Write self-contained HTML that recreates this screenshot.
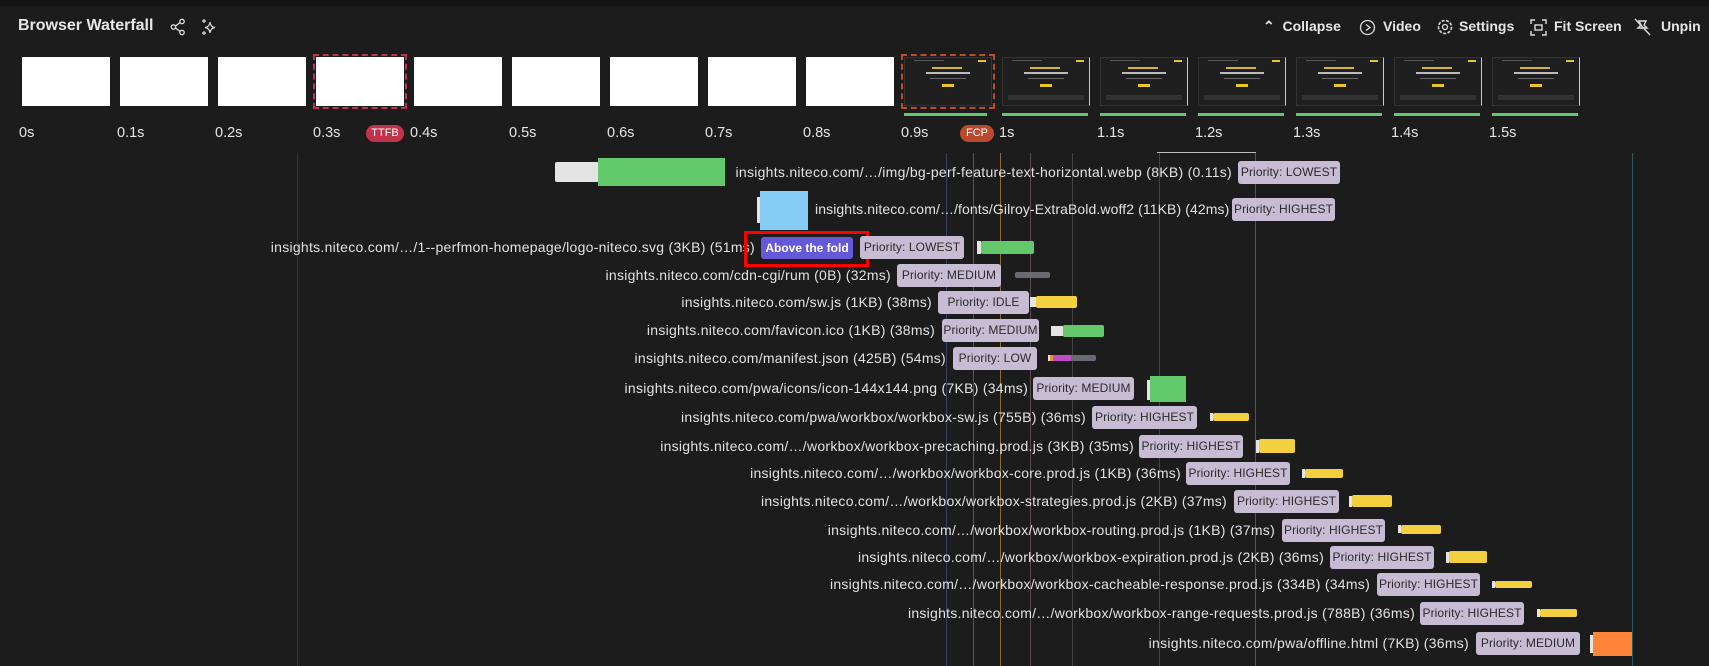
<!DOCTYPE html>
<html><head><meta charset="utf-8"><style>
*{margin:0;padding:0;box-sizing:border-box}
body{width:1709px;height:666px;background:#1c1c1c;position:relative;overflow:hidden;font-family:"Liberation Sans",sans-serif;color:#e4e4e4}
.a{position:absolute}
.t{position:absolute;font-size:14px;white-space:nowrap;line-height:22px;height:22px;color:#e2e2e2;letter-spacing:0.27px}
.b{position:absolute;height:23px;background:#c8bcd5;color:#2a2a2a;font-size:12px;line-height:23px;border-radius:3px;text-align:center;white-space:nowrap;letter-spacing:0.1px}
.th{position:absolute;top:57px;width:88px;height:49px;background:#fff}
.dk{background:#1f1f1f;border:1px solid #333}
.vl{position:absolute;top:153px;bottom:0;width:1px}
.tl{position:absolute;top:125px;font-size:14.5px;color:#e6e6e6}
.gb{position:absolute;top:113px;height:3px;background:#62c96b;width:86px}
.hd{position:absolute;top:18px;font-size:14px;font-weight:bold;color:#e6e6e6}
</style></head><body>
<div class="a" style="left:0;top:0;width:1709px;height:6px;background:#131313"></div>
<div class="a" style="left:18px;top:17px;font-size:16px;font-weight:bold;color:#e8e8e8">Browser Waterfall</div>
<svg class="a" style="left:170px;top:18px" width="16" height="18" viewBox="0 0 16 18" fill="none" stroke="#ddd" stroke-width="1.3"><circle cx="12" cy="3.5" r="2.2"/><circle cx="3.5" cy="9" r="2.2"/><circle cx="12" cy="14.5" r="2.2"/><path d="M5.5 8 10 4.7M5.5 10 10 13.3"/></svg>
<svg class="a" style="left:200px;top:18px" width="18" height="18" viewBox="0 0 18 18" fill="none" stroke="#ddd" stroke-width="1.2"><path d="M10 4 Q10.5 9 15 9.5 Q10.5 10 10 15 Q9.5 10 5 9.5 Q9.5 9 10 4Z"/><path d="M4 1v4M2 3h4M4 13v4M2 15h4"/></svg>
<div class="hd" style="left:1263px">&#8963;&nbsp; Collapse</div>
<svg class="a" style="left:1359px;top:19px" width="17" height="17"><circle cx="8.5" cy="8.5" r="7" fill="none" stroke="#ddd" stroke-width="1.3"/><path d="M7 5.5 11 8.5 7 11.5" fill="none" stroke="#ddd" stroke-width="1.3"/></svg>
<div class="hd" style="left:1383px">Video</div>
<svg class="a" style="left:1436px;top:18px" width="18" height="18"><circle cx="9" cy="9" r="6.5" fill="none" stroke="#ddd" stroke-width="1.6" stroke-dasharray="3 1.5"/><circle cx="9" cy="9" r="2.5" fill="none" stroke="#ddd" stroke-width="1.3"/></svg>
<div class="hd" style="left:1459px">Settings</div>
<svg class="a" style="left:1530px;top:19px" width="17" height="17" fill="none" stroke="#ddd" stroke-width="1.4"><path d="M1 5V1h4M12 1h4v4M16 12v4h-4M5 16H1v-4"/><rect x="5" y="6" width="7" height="5"/></svg>
<div class="hd" style="left:1554px">Fit Screen</div>
<svg class="a" style="left:1634px;top:18px" width="17" height="18" fill="none" stroke="#ddd" stroke-width="1.4"><path d="M1 1 16 17M5 3l7 0-2 4 3 3H4l3-3z"/></svg>
<div class="hd" style="left:1661px">Unpin</div>

<div class="th" style="left:22px"></div>
<div class="th" style="left:120px"></div>
<div class="th" style="left:218px"></div>
<div class="th" style="left:316px;outline:2px dashed #c0334a;outline-offset:1px"></div>
<div class="th" style="left:414px"></div>
<div class="th" style="left:512px"></div>
<div class="th" style="left:610px"></div>
<div class="th" style="left:708px"></div>
<div class="th" style="left:806px"></div>
<div class="th dk" style="left:904px;outline:2px dashed #c04a2a;outline-offset:1px"></div>
<div class="th dk" style="left:1002px;border-right:1px solid #ccc"></div>
<div class="th dk" style="left:1100px;border-right:1px solid #ccc"></div>
<div class="th dk" style="left:1198px;border-right:1px solid #ccc"></div>
<div class="th dk" style="left:1296px;border-right:1px solid #ccc"></div>
<div class="th dk" style="left:1394px;border-right:1px solid #ccc"></div>
<div class="th dk" style="left:1492px;border-right:1px solid #ccc"></div>
<svg class="a" style="left:904px;top:57px" width="690" height="49">
<g id="m">
<rect x="28" y="10" width="30" height="2" fill="#d8b82a"/><rect x="22" y="15" width="44" height="2" fill="#bbb"/><rect x="26" y="21" width="36" height="1" fill="#666"/><rect x="38" y="27" width="12" height="3" fill="#e8c52d"/><rect x="74" y="3" width="8" height="2" fill="#e8c52d"/><rect x="10" y="3" width="30" height="1" fill="#555"/>
</g>
<use href="#m" x="98"/><use href="#m" x="196"/><use href="#m" x="294"/><use href="#m" x="392"/><use href="#m" x="490"/><use href="#m" x="588"/>
<g fill="#333"><rect x="104" y="38" width="76" height="5"/><rect x="202" y="38" width="76" height="5"/><rect x="300" y="38" width="76" height="5"/><rect x="398" y="38" width="76" height="5"/><rect x="496" y="38" width="76" height="5"/><rect x="594" y="38" width="76" height="5"/></g>
</svg>
<div class="gb" style="left:904px;width:83px"></div>
<div class="gb" style="left:1002px"></div><div class="gb" style="left:1100px"></div><div class="gb" style="left:1198px"></div><div class="gb" style="left:1296px"></div><div class="gb" style="left:1394px"></div><div class="gb" style="left:1492px"></div>

<div class="tl" style="left:19px">0s</div>
<div class="tl" style="left:117px">0.1s</div>
<div class="tl" style="left:215px">0.2s</div>
<div class="tl" style="left:313px">0.3s</div>
<div class="a" style="left:366px;top:125px;width:38px;height:17px;border-radius:9px;background:#c0334a;color:#fff;font-size:11px;line-height:17px;text-align:center">TTFB</div>
<div class="tl" style="left:410px">0.4s</div>
<div class="tl" style="left:509px">0.5s</div>
<div class="tl" style="left:607px">0.6s</div>
<div class="tl" style="left:705px">0.7s</div>
<div class="tl" style="left:803px">0.8s</div>
<div class="tl" style="left:901px">0.9s</div>
<div class="a" style="left:960px;top:125px;width:34px;height:17px;border-radius:9px;background:#b94a2e;color:#fff;font-size:11px;line-height:17px;text-align:center">FCP</div>
<div class="tl" style="left:999px">1s</div>
<div class="tl" style="left:1097px">1.1s</div>
<div class="tl" style="left:1195px">1.2s</div>
<div class="tl" style="left:1293px">1.3s</div>
<div class="tl" style="left:1391px">1.4s</div>
<div class="tl" style="left:1489px">1.5s</div>

<div class="vl" style="left:297px;background:#4a2530"></div>
<div class="vl" style="left:946px;background:#3a3f6a"></div>
<div class="vl" style="left:973px;background:#3e5a80"></div>
<div class="vl" style="left:1000px;background:#8a6a35"></div>
<div class="vl" style="left:1030px;background:#5a4a52"></div>
<div class="vl" style="left:1072px;background:#444"></div>
<div class="vl" style="left:1159px;background:#7a2a2a"></div>
<div class="vl" style="left:1255px;background:#2f6a35"></div>
<div class="vl" style="left:1632px;background:#2a5a5a"></div>
<div class="a" style="left:1157px;top:152px;width:99px;height:1px;background:#bbb"></div>

<div class="a" style="left:555px;top:162px;width:44px;height:20px;background:#e4e4e4;border-radius:2px"></div>
<div class="a" style="left:598px;top:158px;width:127px;height:28px;background:#62c96b"></div>
<div class="t" style="right:477px;top:161px">insights.niteco.com/…/img/bg-perf-feature-text-horizontal.webp (8KB) (0.11s)</div>
<div class="b" style="left:1238px;top:161px;width:102px">Priority: LOWEST</div>

<div class="a" style="left:757px;top:197px;width:3px;height:26px;background:#e4e4e4"></div>
<div class="a" style="left:760px;top:191px;width:48px;height:39px;background:#86cdf5"></div>
<div class="t" style="left:815px;top:198px;letter-spacing:0.1px">insights.niteco.com/…/fonts/Gilroy-ExtraBold.woff2 (11KB) (42ms)</div>
<div class="b" style="left:1232px;top:198px;width:103px">Priority: HIGHEST</div>

<div class="t" style="right:954px;top:236px">insights.niteco.com/…/1--perfmon-homepage/logo-niteco.svg (3KB) (51ms)</div>
<div class="a" style="left:744px;top:231px;width:125px;height:36px;border:3px solid #f00"></div>
<div class="a" style="left:761px;top:237px;width:92px;height:22px;background:#6459d9;border-radius:3px;color:#fff;font-size:12px;font-weight:bold;line-height:22px;text-align:center">Above the fold</div>
<div class="b" style="left:860px;top:236px;width:104px">Priority: LOWEST</div>
<div class="a" style="left:977px;top:241px;width:4px;height:13px;background:#e4e4e4"></div>
<div class="a" style="left:981px;top:241px;width:53px;height:13px;background:#62c96b;border-radius:2px"></div>

<div class="t" style="right:818px;top:264px">insights.niteco.com/cdn-cgi/rum (0B) (32ms)</div>
<div class="b" style="left:897px;top:264px;width:104px">Priority: MEDIUM</div>
<div class="a" style="left:1015px;top:272px;width:35px;height:6px;background:#6a6a72;border-radius:2px"></div>

<div class="t" style="right:777px;top:291px">insights.niteco.com/sw.js (1KB) (38ms)</div>
<div class="b" style="left:938px;top:291px;width:91px">Priority: IDLE</div>
<div class="a" style="left:1030px;top:297px;width:6px;height:10px;background:#e4e4e4"></div>
<div class="a" style="left:1036px;top:296px;width:41px;height:12px;background:#f4d03f;border-radius:2px"></div>

<div class="t" style="right:774px;top:319px">insights.niteco.com/favicon.ico (1KB) (38ms)</div>
<div class="b" style="left:942px;top:319px;width:97px">Priority: MEDIUM</div>
<div class="a" style="left:1051px;top:326px;width:12px;height:10px;background:#e4e4e4"></div>
<div class="a" style="left:1063px;top:325px;width:41px;height:12px;background:#62c96b;border-radius:2px"></div>

<div class="t" style="right:763px;top:347px">insights.niteco.com/manifest.json (425B) (54ms)</div>
<div class="b" style="left:953px;top:347px;width:84px">Priority: LOW</div>
<div class="a" style="left:1048px;top:355px;width:2px;height:6px;background:#e4e4e4"></div>
<div class="a" style="left:1050px;top:355px;width:3px;height:6px;background:#f0903a"></div>
<div class="a" style="left:1053px;top:355px;width:18px;height:6px;background:#c04ac8"></div>
<div class="a" style="left:1071px;top:355px;width:25px;height:6px;background:#6a6a72;border-radius:0 2px 2px 0"></div>

<div class="t" style="right:681px;top:377px">insights.niteco.com/pwa/icons/icon-144x144.png (7KB) (34ms)</div>
<div class="b" style="left:1033px;top:377px;width:101px">Priority: MEDIUM</div>
<div class="a" style="left:1147px;top:380px;width:3px;height:20px;background:#e4e4e4"></div>
<div class="a" style="left:1150px;top:376px;width:36px;height:26px;background:#62c96b"></div>

<div class="t" style="right:623px;top:406px">insights.niteco.com/pwa/workbox/workbox-sw.js (755B) (36ms)</div>
<div class="b" style="left:1092px;top:406px;width:105px">Priority: HIGHEST</div>
<div class="a" style="left:1210px;top:413px;width:3px;height:8px;background:#e4e4e4"></div>
<div class="a" style="left:1213px;top:413px;width:36px;height:8px;background:#f4d03f;border-radius:2px"></div>

<div class="t" style="right:575px;top:435px">insights.niteco.com/…/workbox/workbox-precaching.prod.js (3KB) (35ms)</div>
<div class="b" style="left:1139px;top:435px;width:104px">Priority: HIGHEST</div>
<div class="a" style="left:1256px;top:440px;width:3px;height:13px;background:#e4e4e4"></div>
<div class="a" style="left:1259px;top:439px;width:36px;height:14px;background:#f4d03f;border-radius:2px"></div>

<div class="t" style="right:528px;top:462px">insights.niteco.com/…/workbox/workbox-core.prod.js (1KB) (36ms)</div>
<div class="b" style="left:1186px;top:462px;width:104px">Priority: HIGHEST</div>
<div class="a" style="left:1302px;top:469px;width:3px;height:9px;background:#e4e4e4"></div>
<div class="a" style="left:1305px;top:469px;width:38px;height:9px;background:#f4d03f;border-radius:2px"></div>

<div class="t" style="right:482px;top:490px">insights.niteco.com/…/workbox/workbox-strategies.prod.js (2KB) (37ms)</div>
<div class="b" style="left:1234px;top:490px;width:105px">Priority: HIGHEST</div>
<div class="a" style="left:1349px;top:496px;width:3px;height:11px;background:#e4e4e4"></div>
<div class="a" style="left:1352px;top:495px;width:40px;height:12px;background:#f4d03f;border-radius:2px"></div>

<div class="t" style="right:434px;top:519px">insights.niteco.com/…/workbox/workbox-routing.prod.js (1KB) (37ms)</div>
<div class="b" style="left:1282px;top:519px;width:103px">Priority: HIGHEST</div>
<div class="a" style="left:1398px;top:525px;width:3px;height:8px;background:#e4e4e4"></div>
<div class="a" style="left:1401px;top:525px;width:40px;height:9px;background:#f4d03f;border-radius:2px"></div>

<div class="t" style="right:385px;top:546px">insights.niteco.com/…/workbox/workbox-expiration.prod.js (2KB) (36ms)</div>
<div class="b" style="left:1330px;top:546px;width:104px">Priority: HIGHEST</div>
<div class="a" style="left:1446px;top:552px;width:3px;height:11px;background:#e4e4e4"></div>
<div class="a" style="left:1449px;top:551px;width:38px;height:12px;background:#f4d03f;border-radius:2px"></div>

<div class="t" style="right:339px;top:573px">insights.niteco.com/…/workbox/workbox-cacheable-response.prod.js (334B) (34ms)</div>
<div class="b" style="left:1377px;top:573px;width:103px">Priority: HIGHEST</div>
<div class="a" style="left:1492px;top:581px;width:3px;height:7px;background:#e4e4e4"></div>
<div class="a" style="left:1495px;top:581px;width:37px;height:7px;background:#f4d03f;border-radius:2px"></div>

<div class="t" style="right:294px;top:602px">insights.niteco.com/…/workbox/workbox-range-requests.prod.js (788B) (36ms)</div>
<div class="b" style="left:1420px;top:602px;width:104px">Priority: HIGHEST</div>
<div class="a" style="left:1537px;top:609px;width:3px;height:8px;background:#e4e4e4"></div>
<div class="a" style="left:1540px;top:609px;width:37px;height:8px;background:#f4d03f;border-radius:2px"></div>

<div class="t" style="right:240px;top:632px">insights.niteco.com/pwa/offline.html (7KB) (36ms)</div>
<div class="b" style="left:1476px;top:632px;width:104px">Priority: MEDIUM</div>
<div class="a" style="left:1590px;top:635px;width:3px;height:18px;background:#e4e4e4"></div>
<div class="a" style="left:1593px;top:632px;width:39px;height:24px;background:#ff8638"></div>
</body></html>
